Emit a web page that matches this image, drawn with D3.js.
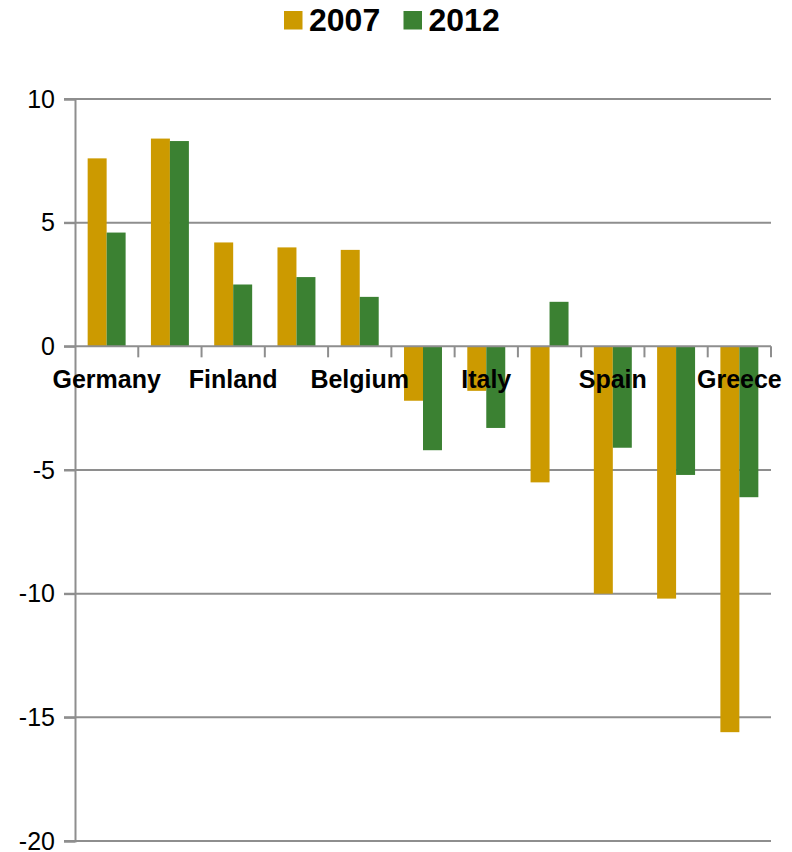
<!DOCTYPE html>
<html>
<head>
<meta charset="utf-8">
<script src="https://cdn.jsdelivr.net/npm/d3@7"></script>
<style>
  body { margin: 0; background: #fff; }
  svg { display: block; font-family: "Liberation Sans", Arial, sans-serif; }
</style>
</head>
<body>
<svg id="canvas" width="792" height="852"></svg>
<script>
// Data (current account balance, % of GDP)
const countries = ['Germany', 'Netherlands', 'Finland', 'Austria', 'Belgium', 'France',
                   'Italy', 'Ireland', 'Spain', 'Portugal', 'Greece'];
const years = ['2007', '2012'];
const values2007 = [7.6, 8.4, 4.2, 4.0, 3.9, -2.2, -1.8, -5.5, -10.0, -10.2, -15.6];
const values2012 = [4.6, 8.3, 2.5, 2.8, 2.0, -4.2, -3.3, 1.8, -4.1, -5.2, -6.1];
const yTicks = [-20, -15, -10, -5, 0, 5, 10];

// Layout
const margin = { top: 99, right: 21, bottom: 11, left: 75 };
const width = 792;
const height = 852;
const gridColor = '#8e8e8e';
const seriesColors = { '2007': '#cc9a00', '2012': '#3b8132' };

const svg = d3.select('#canvas');

const x = d3.scaleBand()
    .domain(countries)
    .range([margin.left, width - margin.right])
    .paddingInner(0.4)
    .paddingOuter(0.2);

const xSub = d3.scaleBand()
    .domain(years)
    .range([0, x.bandwidth()]);

const y = d3.scaleLinear()
    .domain([-20, 10])
    .range([height - margin.bottom, margin.top]);

const rows = countries.map((c, i) => ({
    country: c,
    values: [{ year: '2007', value: values2007[i] }, { year: '2012', value: values2012[i] }]
}));

// Gridlines
svg.append('g')
    .selectAll('line')
    .data(yTicks.filter(d => d !== 0))
    .join('line')
    .attr('x1', margin.left - 11)
    .attr('x2', width - margin.right)
    .attr('y1', d => y(d))
    .attr('y2', d => y(d))
    .attr('stroke', gridColor)
    .attr('stroke-width', 2);

// Bars
svg.append('g')
    .selectAll('g')
    .data(rows)
    .join('g')
    .attr('transform', d => `translate(${x(d.country)},0)`)
    .selectAll('rect')
    .data(d => d.values)
    .join('rect')
    .attr('x', d => xSub(d.year))
    .attr('width', xSub.bandwidth())
    .attr('y', d => y(Math.max(0, d.value)))
    .attr('height', d => Math.abs(y(d.value) - y(0)))
    .attr('fill', d => seriesColors[d.year]);

// Y axis
const yAxis = svg.append('g')
    .attr('transform', `translate(${margin.left},0)`)
    .call(d3.axisLeft(y).tickValues(yTicks).tickFormat(d => String(d)).tickSize(11).tickPadding(9));
yAxis.select('.domain').attr('stroke', gridColor).attr('stroke-width', 2);
yAxis.selectAll('.tick line').attr('stroke', gridColor).attr('stroke-width', 2);
yAxis.selectAll('.tick text')
    .attr('fill', '#000')
    .style('font-size', '25px')
    .style('font-family', '"Liberation Sans", Arial, sans-serif');

// Zero line with category ticks
const y0 = y(0);
svg.append('line')
    .attr('x1', margin.left - 11)
    .attr('x2', width - margin.right)
    .attr('y1', y0)
    .attr('y2', y0)
    .attr('stroke', gridColor)
    .attr('stroke-width', 2);

const boundaries = d3.range(1, countries.length + 1).map(i => margin.left + i * x.step());
svg.append('g')
    .selectAll('line')
    .data(boundaries)
    .join('line')
    .attr('x1', d => d)
    .attr('x2', d => d)
    .attr('y1', y0)
    .attr('y2', y0 + 11)
    .attr('stroke', gridColor)
    .attr('stroke-width', 2);

// Category labels (every other one)
svg.append('g')
    .selectAll('text')
    .data(countries.filter((d, i) => i % 2 === 0))
    .join('text')
    .attr('x', d => x(d) + x.bandwidth() / 2)
    .attr('y', y0 + 42)
    .attr('text-anchor', 'middle')
    .style('font-size', '25px')
    .style('font-weight', 'bold')
    .text(d => d);

// Legend
const legend = svg.append('g').attr('transform', 'translate(284,0)');
const legendItem = legend.selectAll('g')
    .data(years)
    .join('g')
    .attr('transform', (d, i) => `translate(${i * 119.5},0)`);
legendItem.append('rect')
    .attr('x', 0)
    .attr('y', 11)
    .attr('width', 18.5)
    .attr('height', 18.5)
    .attr('fill', d => seriesColors[d]);
legendItem.append('text')
    .attr('x', 25)
    .attr('y', 30.5)
    .style('font-size', '32px')
    .style('font-weight', 'bold')
    .text(d => d);
</script>
</body>
</html>
